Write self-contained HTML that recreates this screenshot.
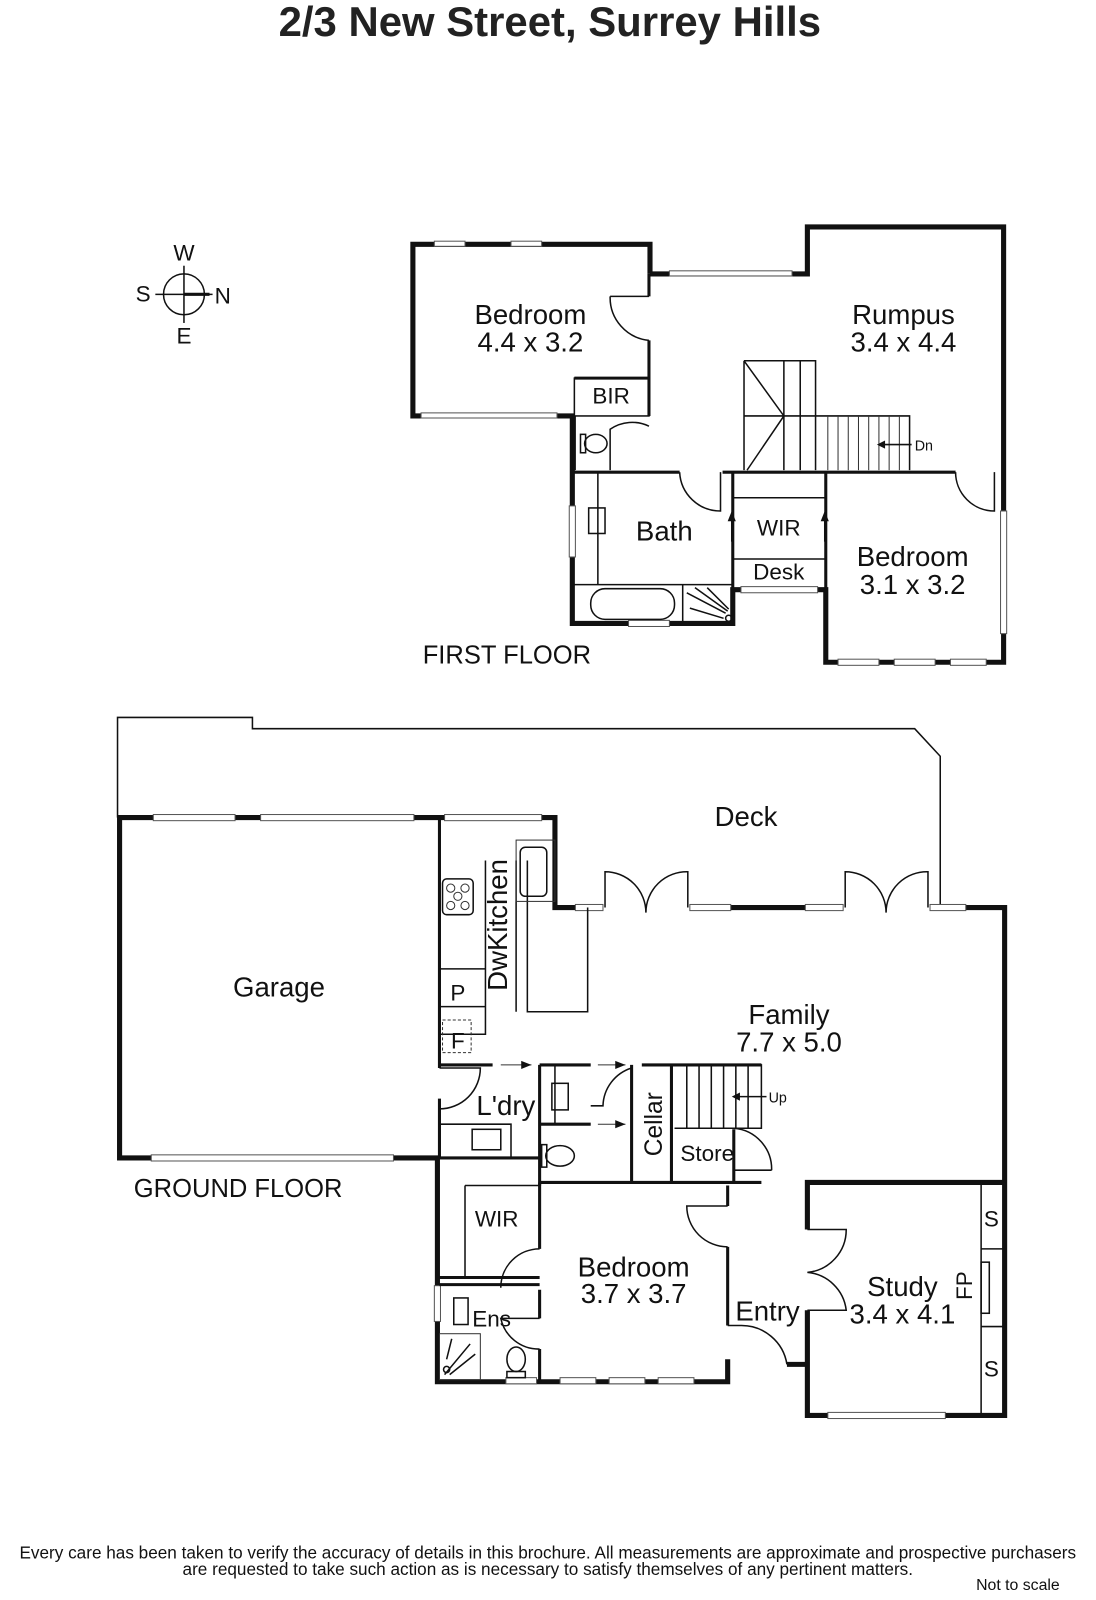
<!DOCTYPE html>
<html><head><meta charset="utf-8"><style>
html,body{margin:0;padding:0;background:#fff;}
svg{display:block;font-family:"Liberation Sans",sans-serif;}
</style></head><body>
<svg width="1096" height="1600" viewBox="0 0 1096 1600" xmlns="http://www.w3.org/2000/svg">
<style>
.t{fill:#111;font-size:27px;text-anchor:middle}
.s{fill:#111;font-size:22px;text-anchor:middle}
.w{stroke:#111;stroke-width:5;fill:none}
.m{stroke:#111;stroke-width:3;fill:none}
.l{stroke:#111;stroke-width:1.5;fill:none}
.h{stroke:#333;stroke-width:1;fill:none}
.win{fill:#fff;stroke:#555;stroke-width:1}
</style>
<g transform="scale(1.022)">
<text x="538" y="35" style="font-size:41px;font-weight:bold;text-anchor:middle;fill:#222">2/3 New Street, Surrey Hills</text>

<!-- compass -->
<circle cx="180" cy="288" r="20" class="l"/>
<line x1="180" y1="260" x2="180" y2="316" class="l"/>
<line x1="152" y1="288" x2="208" y2="288" class="l"/>
<line x1="180" y1="288" x2="205" y2="288" stroke="#111" stroke-width="3"/>
<text x="180" y="255" class="s">W</text><text x="140" y="295" class="s">S</text>
<text x="218" y="297" class="s">N</text><text x="180" y="336" class="s">E</text>

<!-- FIRST FLOOR -->
<polyline class="w" points="636,268 636,239 404,239 404,407 560,407 560,610 717,610 717,577 808,577 808,648 982,648 982,222 790,222 790,268 636,268"/>
<rect x="425" y="236" width="30" height="5" class="win"/><rect x="500" y="236" width="30" height="5" class="win"/>
<rect x="412" y="404" width="133" height="5" class="win"/>
<rect x="655" y="265" width="120" height="5" class="win"/>
<rect x="979" y="500" width="6" height="120" class="win"/>
<rect x="820" y="645" width="40" height="6" class="win"/><rect x="875" y="645" width="40" height="6" class="win"/><rect x="930" y="645" width="35" height="6" class="win"/>
<rect x="725" y="574" width="75" height="6" class="win"/>
<rect x="615" y="607" width="40" height="6" class="win"/>
<rect x="557" y="495" width="6" height="50" class="win"/>
<!-- interior first -->
<path class="m" d="M635,268 V290 M635,333 V407 M562,370 H635 M562,407 V460"/>
<path class="l" d="M597,290 A42,42 0 0 0 635,333 M597,290 H635"/>
<rect x="562" y="370" width="73" height="37" class="l"/>
<text x="598" y="395" class="s">BIR</text>
<path class="l" d="M597,460 V420 A38,38 0 0 1 635,417"/>
<ellipse cx="583" cy="434" rx="11" ry="9" class="l"/><rect x="568" y="425" width="5" height="18" class="l"/>
<path class="m" d="M562,462 H665 M707,462 H935"/>
<path class="l" d="M665,462 A40,40 0 0 0 705,500 V462 M935,462 A38,38 0 0 0 973,500 V462"/>
<path class="m" d="M717,462 V577 M808,462 V577"/>
<path class="l" d="M717,487 H808 M717,547 H808 M585,462 V572 M562,572 H717 M668,572 V610"/>
<rect x="576" y="497" width="16" height="25" class="l"/>
<rect x="578" y="576" width="82" height="30" rx="14" class="l"/>
<path class="l" d="M672,580 L710,600 M680,575 L712,598 M692,575 L713,596 M675,595 L708,605"/>
<circle cx="713" cy="605" r="3" class="l"/>
<text x="650" y="529" class="t">Bath</text>
<text x="762" y="524" class="s">WIR</text><text x="762" y="567" class="s">Desk</text>
<path class="l" d="M716,530 V505 M807,530 V505"/><path d="M712,510 L716,500 L720,510Z M803,510 L807,500 L811,510Z" fill="#111"/>
<!-- stairs -->
<path class="l" d="M728,353 H798 V460 M728,353 V460 M728,407 H890 V460 M728,353 L767,407 L731,460 M767,353 V460 M783,353 V460"/>
<path class="h" d="M810,407V460 M820,407V460 M830,407V460 M840,407V460 M850,407V460 M860,407V460 M870,407V460 M880,407V460"/>
<path class="l" d="M892,435 H860"/><path d="M858,435 L866,431 L866,439Z" fill="#111"/>
<text x="904" y="441" style="font-size:14px;fill:#111;text-anchor:middle">Dn</text>
<text x="519" y="317" class="t">Bedroom</text><text x="519" y="344" class="t">4.4 x 3.2</text>
<text x="884" y="317" class="t">Rumpus</text><text x="884" y="344" class="t">3.4 x 4.4</text>
<text x="893" y="554" class="t">Bedroom</text><text x="893" y="581" class="t">3.1 x 3.2</text>
<text x="496" y="649" class="t" style="font-size:25px">FIRST FLOOR</text>

<!-- GROUND FLOOR -->
<polyline class="l" points="115,800 115,702 247,702 247,713 895,713 920,740 920,888"/>
<polyline class="w" points="430,1133 117,1133 117,800 543,800 543,888 563,888"/>
<rect x="150" y="797" width="80" height="6" class="win"/><rect x="255" y="797" width="150" height="6" class="win"/><rect x="435" y="797" width="95" height="6" class="win"/>
<rect x="148" y="1130" width="237" height="6" class="win"/>
<path class="w" d="M590,888 H563 M675,888 H825 M910,888 H983 V1385 H790 V1282 M790,1203 V1157 H983 M712,1330 V1352 H428 V1133 M770,1335 H790"/>
<rect x="563" y="885" width="27" height="6" class="win"/><rect x="675" y="885" width="40" height="6" class="win"/><rect x="788" y="885" width="37" height="6" class="win"/><rect x="910" y="885" width="35" height="6" class="win"/>
<path class="l" d="M592,888 V853 A40,40 0 0 1 632,893 M673,888 V853 A40,40 0 0 0 632,893 M827,888 V853 A40,40 0 0 1 867,893 M908,888 V853 A40,40 0 0 0 867,893"/>
<rect x="810" y="1382" width="115" height="6" class="win"/>
<rect x="495" y="1348" width="30" height="6" class="win"/><rect x="548" y="1348" width="35" height="6" class="win"/><rect x="596" y="1348" width="35" height="6" class="win"/><rect x="644" y="1348" width="35" height="6" class="win"/>
<rect x="425" y="1258" width="6" height="35" class="win"/>
<!-- kitchen -->
<path class="m" d="M430,800 V1045 M430,1075 V1133"/>
<path class="l" d="M430,985 H475 V1012 H430 M475,842 V985 M516,842 V990 H575 V888 M505,842 V990"/>
<rect x="505" y="822" width="38" height="60" class="h"/>
<rect x="509" y="829" width="26" height="48" rx="5" class="l"/>
<rect x="433" y="860" width="30" height="35" rx="4" class="l"/>
<circle cx="441" cy="869" r="4" class="h"/><circle cx="455" cy="869" r="4" class="h"/><circle cx="448" cy="877" r="4" class="h"/><circle cx="441" cy="886" r="4" class="h"/><circle cx="455" cy="886" r="4" class="h"/>
<path class="l" d="M430,948 H475"/>
<rect x="433" y="998" width="28" height="32" class="h" stroke-dasharray="3,2"/>
<text x="448" y="979" class="s">P</text><text x="448" y="1026" class="s">F</text>
<text x="496" y="905" class="t" transform="rotate(-90 496 905)">DwKitchen</text>
<!-- laundry area -->
<path class="m" d="M430,1042 H482 M528,1042 H578 M628,1042 H745 M528,1042 V1160 M430,1133 H528 M528,1100 H578 M528,1157 H745 M618,1042 V1157 M657,1042 V1157 M718,1105 V1157"/>
<path class="h" d="M490,1042 H520 M585,1042 H612 M585,1100 H612"/>
<path d="M520,1042 L510,1038 L510,1046Z M612,1042 L602,1038 L602,1046Z M612,1100 L602,1096 L602,1104Z" fill="#111"/>
<path class="l" d="M430,1045 H470 A40,40 0 0 1 430,1085 M430,1100 H500 V1133 M578,1082 H590 A40,40 0 0 1 618,1045 M543,1042 V1100"/>
<rect x="462" y="1105" width="28" height="20" class="l"/>
<rect x="540" y="1060" width="16" height="26" class="l"/>
<ellipse cx="548" cy="1131" rx="14" ry="10" class="l"/><rect x="530" y="1120" width="5" height="22" class="l"/>
<text x="495" y="1091" class="t">L'dry</text>
<text x="648" y="1100" class="t" transform="rotate(-90 648 1100)" style="font-size:24px">Cellar</text>
<text x="692" y="1136" class="s">Store</text>
<!-- up stairs -->
<path class="l" d="M660,1042 H745 V1104 H660 M672,1042V1104 M684,1042V1104 M696,1042V1104 M708,1042V1104 M720,1042V1104 M732,1042V1104 M718,1104 A40,40 0 0 1 755,1145 M718,1145 H755"/>
<path class="l" d="M750,1073 H718"/><path d="M716,1073 L724,1069 L724,1077Z" fill="#111"/>
<text x="761" y="1079" style="font-size:14px;fill:#111;text-anchor:middle">Up</text>
<text x="772" y="1002" class="t">Family</text><text x="772" y="1029" class="t">7.7 x 5.0</text>
<!-- bedroom ground -->
<path class="m" d="M528,1157 V1222 M528,1262 V1290 M528,1320 V1352 M712,1160 V1180 M712,1220 V1297 M430,1250 H528 M430,1257 H528"/>
<path class="l" d="M455,1160 V1250 M455,1160 H528 M528,1222 A38,38 0 0 0 490,1260 M528,1290 H490 A38,38 0 0 0 528,1320 M712,1180 H672 A40,40 0 0 0 712,1220"/>
<path class="l" d="M712,1297 H725 A45,45 0 0 1 770,1335 M790,1203 H828 A42,42 0 0 1 790,1245 A42,42 0 0 1 828,1282 H790"/>
<rect x="444" y="1270" width="14" height="26" class="l"/><rect x="430" y="1305" width="40" height="45" class="h"/>
<path class="l" d="M435,1345 L460,1315 M437,1330 L442,1310 M440,1345 L465,1325"/><circle cx="437" cy="1340" r="3" class="l"/>
<ellipse cx="505" cy="1330" rx="9" ry="12" class="l"/><rect x="496" y="1342" width="18" height="6" class="l"/>
<text x="486" y="1200" class="s">WIR</text><text x="481" y="1298" class="s">Ens</text>
<text x="620" y="1249" class="t">Bedroom</text><text x="620" y="1275" class="t">3.7 x 3.7</text>
<text x="751" y="1292" class="t">Entry</text>
<!-- study -->
<path class="l" d="M960,1157 V1385 M960,1222 H983 M960,1298 H983"/>
<rect x="960" y="1235" width="8" height="50" class="l"/>
<text x="970" y="1200" class="s">S</text><text x="970" y="1347" class="s">S</text>
<text x="951" y="1258" class="s" transform="rotate(-90 951 1258)">FP</text>
<text x="883" y="1268" class="t">Study</text><text x="883" y="1295" class="t">3.4 x 4.1</text>
<text x="730" y="808" class="t">Deck</text>
<text x="273" y="975" class="t">Garage</text>
<text x="233" y="1171" class="t" style="font-size:25px">GROUND FLOOR</text>

<text x="536" y="1525" style="font-size:16.8px;fill:#111;text-anchor:middle">Every care has been taken to verify the accuracy of details in this brochure.  All measurements are approximate and prospective purchasers</text>
<text x="536" y="1541" style="font-size:16.8px;fill:#111;text-anchor:middle">are requested to take such action as is necessary to satisfy themselves of any pertinent matters.</text>
<text x="996" y="1556" style="font-size:15.5px;fill:#111;text-anchor:middle">Not to scale</text>
</g>
</svg>
</body></html>
